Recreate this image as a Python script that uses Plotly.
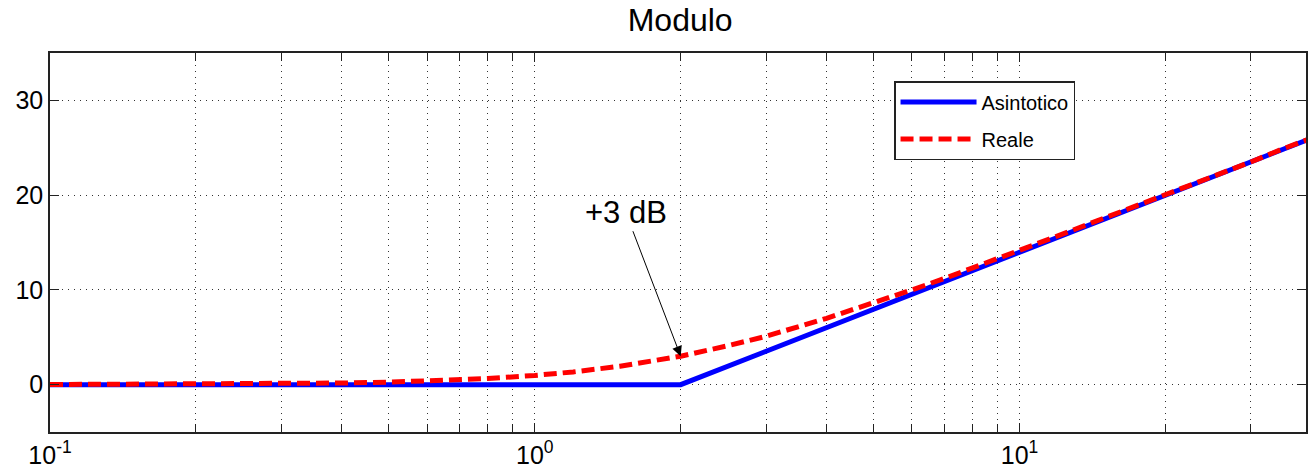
import math
import plotly.graph_objects as go

# Asymptotic Bode magnitude (dB)
asym_w = [0.1, 2.0, 40.0]
asym_db = [0.0, 0.0, 26.0]

real_w = [0.1, 0.2, 0.3, 0.4, 0.5, 0.6, 0.7, 0.8, 1.0, 1.2, 1.5, 1.75, 2.0, 2.5, 3.0, 4.0,
          5.0, 6.0, 7.0, 8.0, 10.0, 12.0, 15.0, 20.0, 25.0, 30.0, 35.0, 40.0]
real_db = [0.01, 0.04, 0.1, 0.17, 0.26, 0.37, 0.5, 0.64, 0.97, 1.34, 1.94, 2.44, 3.0, 4.1, 5.1, 7.0,
           8.6, 10.0, 11.2, 12.3, 14.1, 15.7, 17.6, 20.0, 22.0, 23.5, 24.9, 26.0]

x_major_vals = [0.1, 1, 10]
x_major_text = ["10<sup>-1</sup>", "10<sup>0</sup>", "10<sup>1</sup>"]
x_minor_vals = [0.2, 0.3, 0.4, 0.5, 0.6, 0.7, 0.8, 0.9,
                2, 3, 4, 5, 6, 7, 8, 9,
                20, 30, 40]
y_tickvals = [0, 10, 20, 30]

FONT = "Liberation Sans, Arial, Helvetica, sans-serif"

fig = go.Figure()
fig.add_trace(go.Scatter(x=asym_w, y=asym_db, mode="lines", name="Asintotico",
                         line=dict(color="#0000FF", width=5), legendgroup="a"))
fig.add_trace(go.Scatter(x=real_w, y=real_db, mode="lines", name="Reale",
                         line=dict(color="#FF0000", width=5, dash="13px,6px"), legendgroup="b"))

GRIDC = "rgba(0,0,0,0.8)"
DOT = "1px,5px"
axis_common = dict(showline=True, linecolor="#222", linewidth=1.5, mirror="ticks",
                   ticks="inside", ticklen=9, tickwidth=1, tickcolor="#222",
                   zeroline=False, tickfont=dict(family=FONT, size=25, color="#000"),
                   showgrid=True, gridcolor=GRIDC, gridwidth=1, griddash=DOT)

fig.update_xaxes(type="log", range=[-1, math.log10(39)], tickmode="array",
                 tickvals=x_major_vals, ticktext=x_major_text,
                 minor=dict(tickmode="array", tickvals=x_minor_vals, ticks="inside",
                            ticklen=8, tickwidth=1, tickcolor="#222",
                            showgrid=True, gridcolor=GRIDC, gridwidth=1, griddash=DOT),
                 **axis_common)
fig.update_yaxes(range=[-5, 35], tickmode="array", tickvals=y_tickvals, **axis_common)

fig.add_annotation(x=math.log10(2), y=3, xref="x", yref="y", text="+3 dB",
                   showarrow=True, ax=-55, ay=-144, axref="pixel", ayref="pixel",
                   arrowhead=2, arrowsize=2, arrowwidth=1, arrowcolor="#000",
                   font=dict(family=FONT, size=31, color="#000"))

fig.update_layout(
    width=1308, height=476,
    margin=dict(l=50, r=0, t=53, b=44),
    paper_bgcolor="white", plot_bgcolor="white",
    title=dict(text="Modulo", x=0.52, xanchor="center", y=1 - 20 / 476, yanchor="middle",
               font=dict(family=FONT, size=32, color="#000")),
    showlegend=True,
    legend=dict(x=0.672, y=0.926, xanchor="left", yanchor="top",
                bgcolor="white", bordercolor="#222", borderwidth=1.5,
                font=dict(family=FONT, size=20, color="#000"),
                itemwidth=76, tracegroupgap=8),
    hovermode=False,
)

fig.write_html("out.html")
